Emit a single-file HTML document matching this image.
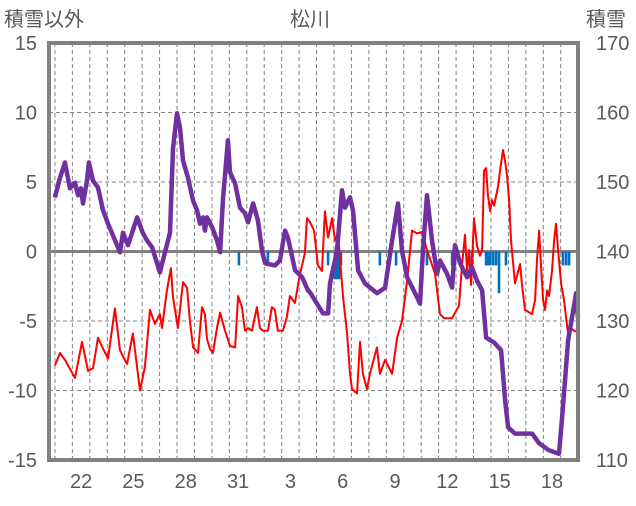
<!DOCTYPE html>
<html><head><meta charset="utf-8"><style>
html,body{margin:0;padding:0;background:#fff;}
svg text{font-family:"Liberation Sans","Noto Sans CJK JP",sans-serif;fill:#595959;}
</style></head><body>
<svg id="chart" width="636" height="501" viewBox="0 0 636 501" xmlns="http://www.w3.org/2000/svg">
<text x="4" y="26" font-size="20">積雪以外</text>
<text x="310" y="26" font-size="20" text-anchor="middle">松川</text>
<text x="586" y="26" font-size="20">積雪</text>
<g id="grid"></g>
<g id="bars"></g>
<g id="lines"></g>
<g id="frame"></g>
<g id="ticks"></g>
</svg>
<script>
const leftTicks=[15,10,5,0,-5,-10,-15];
const rightTicks=[170,160,150,140,130,120,110];
const xTickDays=[22,25,28,31,34,37,40,43,46,49];
const xTickLabels=["22","25","28","31","3","6","9","12","15","18"];
const tempTimes=[21.00,21.29,21.58,22.15,22.55,22.90,23.18,23.47,23.76,24.04,24.44,24.73,25.13,25.47,25.88,26.16,26.45,26.73,27.02,27.14,27.42,27.65,27.77,28.05,28.34,28.57,28.74,28.92,29.20,29.43,29.60,29.72,29.89,30.06,30.29,30.47,30.75,31.04,31.33,31.50,31.72,31.90,32.07,32.30,32.58,32.75,32.93,33.21,33.44,33.61,33.78,34.07,34.30,34.47,34.76,35.04,35.33,35.45,35.63,35.86,36.08,36.31,36.48,36.66,36.89,37.06,37.23,37.52,37.75,37.92,38.03,38.32,38.49,38.66,38.89,39.06,39.46,39.63,39.93,40.33,40.62,40.90,41.19,41.47,41.76,42.05,42.33,42.79,43.08,43.31,43.77,44.17,44.34,44.51,44.63,44.74,44.86,45.03,45.20,45.37,45.49,45.60,45.72,45.83,45.95,46.06,46.18,46.41,46.52,46.69,46.81,46.92,47.04,47.15,47.38,47.67,47.78,47.95,48.36,48.53,48.64,48.76,48.87,48.99,49.10,49.22,49.33,49.50,49.62,49.73,49.85,50.02,50.19,50.36,50.48,50.59,50.76,50.99];
const tempValues=[-8.2,-7.3,-7.8,-9.1,-6.5,-8.6,-8.4,-6.2,-7.0,-7.7,-4.1,-7.1,-8.1,-5.9,-10.0,-8.3,-4.2,-5.2,-4.5,-5.5,-2.8,-1.2,-3.3,-5.5,-2.2,-2.6,-5.0,-6.9,-7.3,-4.0,-4.5,-6.3,-7.0,-7.3,-5.5,-4.4,-5.7,-6.8,-6.9,-3.2,-4.0,-5.7,-5.5,-5.7,-4.0,-5.5,-5.7,-5.7,-4.0,-4.2,-5.7,-5.7,-4.7,-3.2,-3.7,-1.7,-0.1,2.4,2.1,1.5,-1.0,-1.4,2.9,1.0,2.4,0.8,1.3,-3.3,-5.9,-8.8,-9.9,-10.2,-6.5,-8.8,-9.9,-8.8,-6.9,-8.8,-7.8,-8.8,-6.2,-5.0,-2.1,1.5,1.3,1.4,0.1,-1.6,-4.5,-4.8,-4.8,-3.9,-1.0,1.2,-1.4,0.1,-2.4,2.4,0.4,-0.3,0.1,5.8,6.0,4.0,2.9,3.7,3.3,4.7,5.8,7.3,6.5,5.5,3.7,0.8,-2.3,-0.9,-2.4,-4.2,-4.5,-3.5,-0.6,1.5,-1.0,-3.5,-4.2,-2.8,-3.2,-1.4,0.8,2.0,0.1,-2.3,-3.5,-5.3,-6.4,-5.5,-5.7,-5.8];
const snowTimes=[21.00,21.29,21.58,21.86,22.15,22.32,22.49,22.61,22.84,22.95,23.18,23.47,23.76,24.04,24.33,24.73,24.90,25.19,25.71,26.03,26.28,26.57,27.02,27.31,27.60,27.77,28.00,28.17,28.34,28.63,28.92,29.15,29.32,29.49,29.60,29.72,30.01,30.29,30.47,30.64,30.75,30.92,31.04,31.33,31.61,31.90,32.07,32.36,32.64,32.87,33.05,33.62,33.90,34.19,34.36,34.77,35.17,35.51,35.63,36.37,36.66,36.77,37.17,37.46,37.63,37.92,38.09,38.38,38.78,39.47,39.93,40.33,40.67,40.90,41.19,41.65,41.93,42.10,42.33,42.62,42.91,43.08,43.48,43.77,43.94,44.23,44.63,44.91,45.20,45.49,45.72,46.18,46.58,46.81,46.98,47.38,48.36,48.76,49.33,49.90,50.08,50.42,50.88,50.99];
const snowValues=[147.8,150.6,152.8,149.1,149.9,148.1,149.1,146.9,150.2,152.8,150.2,149.2,145.9,144.0,142.3,139.9,142.7,140.9,144.9,142.7,141.6,140.6,137.0,139.9,142.7,154.8,159.9,157.8,153.1,150.6,147.3,145.9,144.0,144.9,143.0,144.9,143.5,141.6,139.9,147.8,150.9,156.0,151.4,149.8,146.3,145.5,144.2,146.9,144.5,140.1,138.3,138.0,138.7,143.0,142.0,137.3,136.3,134.4,134.1,131.1,131.1,135.4,140.1,148.8,146.3,147.8,145.9,137.3,135.4,134.0,134.8,141.6,146.9,140.1,136.3,134.0,132.5,140.1,148.1,141.6,136.8,138.7,136.8,134.8,140.9,138.3,136.3,137.7,135.8,134.4,127.6,126.9,125.8,118.6,114.7,113.8,113.8,112.4,111.4,110.9,116.1,127.2,134.0,130.4];
const precipTimes=[31.55,33.21,36.66,37.06,37.17,37.29,37.40,39.63,40.56,42.33,43.77,43.94,44.91,45.72,45.83,45.95,46.12,46.29,46.46,46.86,50.13,50.31,50.48];
const precipValues=[-1,-1,-1,-2,-2,-2,-1,-1,-1,-1,-1,-1,-1,-1,-1,-1,-1,-1,-3,-1,-1,-1,-1];

const NS="http://www.w3.org/2000/svg";
const X0=49,X1=578,Y0=43,Y1=460,T0=20.66,T1=50.99;
function xs(t){return X0+(t-T0)/(T1-T0)*(X1-X0);}
function yl(v){return Y1-(v+15)/30*(Y1-Y0);}
function yr(v){return Y1-(v-110)/60*(Y1-Y0);}
function mk(tag,attrs,parent){const e=document.createElementNS(NS,tag);for(const k in attrs)e.setAttribute(k,attrs[k]);parent.appendChild(e);return e;}
const grid=document.getElementById('grid'),bars=document.getElementById('bars'),lines=document.getElementById('lines'),frame=document.getElementById('frame'),ticks=document.getElementById('ticks');
for(const v of leftTicks){if(v===15||v===-15||v===0)continue;
 const l=mk('line',{x1:X0,x2:X1,y1:yl(v),y2:yl(v),stroke:'#808080','stroke-width':1,'stroke-dasharray':'4,3'},grid);
 
 }
for(let d=21;d<=50;d++){
 const l=mk('line',{x1:xs(d),x2:xs(d),y1:Y0,y2:Y1,stroke:'#808080','stroke-width':1,'stroke-dasharray':'4,3'},grid);
 
 }
precipTimes.forEach((t,i)=>{const y=yl(precipValues[i]);
 const r=mk('rect',{x:xs(t)-1.3,y:yl(0),width:2.6,height:y-yl(0),fill:'#0070c0'},bars);
 
 });
const z=mk('line',{x1:X0,x2:X1,y1:yl(0),y2:yl(0),stroke:'#808080','stroke-width':3},grid);


const tp=mk('polyline',{points:tempTimes.map((t,i)=>xs(t).toFixed(1)+','+yl(tempValues[i]).toFixed(1)).join(' '),fill:'none',stroke:'#ff0000','stroke-width':2,'stroke-linejoin':'round'},lines);


const sp=mk('polyline',{points:snowTimes.map((t,i)=>xs(t).toFixed(1)+','+yr(snowValues[i]).toFixed(1)).join(' '),fill:'none',stroke:'#7030a0','stroke-width':4.5,'stroke-linejoin':'round'},lines);


const fr=mk('rect',{x:X0,y:Y0,width:X1-X0,height:Y1-Y0,fill:'none',stroke:'#808080','stroke-width':4},frame);


leftTicks.forEach(v=>{const t=mk('text',{x:37,y:yl(v)+7,'font-size':20,'text-anchor':'end'},ticks);t.textContent=String(v);
 
 });
rightTicks.forEach(v=>{const t=mk('text',{x:596,y:yr(v)+7,'font-size':20},ticks);t.textContent=String(v);
 
 });
xTickDays.forEach((d,i)=>{const t=mk('text',{x:xs(d+0.5),y:488,'font-size':20,'text-anchor':'middle'},ticks);t.textContent=xTickLabels[i];
 
 });
</script>
</body></html>
